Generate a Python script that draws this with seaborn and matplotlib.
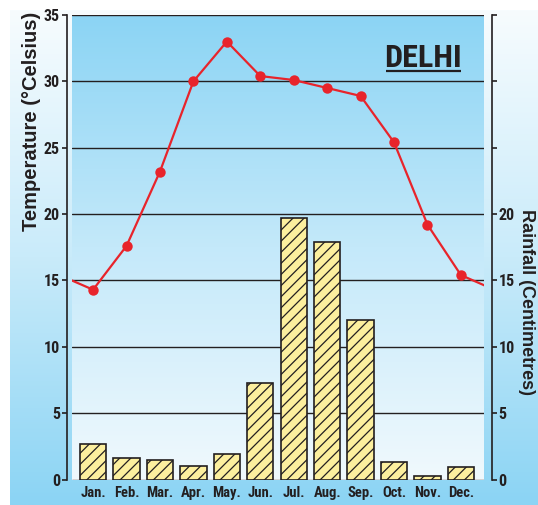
import numpy as np
import pandas as pd
import matplotlib

matplotlib.use("Agg")
import matplotlib.pyplot as plt
from matplotlib.colors import LinearSegmentedColormap
import seaborn as sns

months = ["Jan.", "Feb.", "Mar.", "Apr.", "May.", "Jun.", "Jul.", "Aug.", "Sep.", "Oct.", "Nov.", "Dec."]
temperature_c = [14.3, 17.6, 23.2, 30.0, 33.0, 30.4, 30.1, 29.5, 28.9, 25.4, 19.2, 15.4]
rainfall_cm = [2.65, 1.6, 1.45, 1.05, 1.9, 7.3, 19.7, 17.9, 12.0, 1.35, 0.3, 0.95]
temp_ticks = [0, 5, 10, 15, 20, 25, 30, 35]
rain_tick_labels = ["0", "5", "10", "15", "20", "", "", ""]
city = "DELHI"

INK = "#231f20"
RED = "#e8242b"
NARROW = ["Roboto Condensed", "DejaVu Sans"]

sns.set_theme(style="white")
plt.rcParams["font.family"] = ["Liberation Sans", "DejaVu Sans"]
plt.rcParams["hatch.linewidth"] = 0.9
plt.rcParams["hatch.color"] = INK

fig = plt.figure(figsize=(5.38, 5.05), dpi=100)
W, H = 538, 505

# page background gradient (white at top to sky blue at bottom)
bg = fig.add_axes([10 / W, 0, 1 - 10 / W, 1 - 10 / H], zorder=-5)
page_cmap = LinearSegmentedColormap.from_list("page", ["#f7fcfe", "#c9ebfa", "#8bd4f4"])
bg.imshow(np.linspace(0, 1, 256).reshape(-1, 1), cmap=page_cmap, aspect="auto")
bg.set_axis_off()

ax = fig.add_axes([72 / W, 1 - 479.5 / H, 412 / W, 464.5 / H])
plot_cmap = LinearSegmentedColormap.from_list("plot", ["#8bd4f4", "#c4e9fa", "#f0f9fd"])
ax.imshow(np.linspace(0, 1, 256).reshape(-1, 1), cmap=plot_cmap, aspect="auto",
          extent=(0, 1, 0, 1), transform=ax.transAxes, zorder=0)

positions = np.arange(len(months))
bars = pd.DataFrame({"month": months, "rain": rainfall_cm})
sns.barplot(data=bars, x="month", y="rain", ax=ax, color="#fcef9e", saturation=1,
            edgecolor=INK, linewidth=1.2, width=0.79, hatch="///", zorder=2)

# temperature curve continues into the neighbouring years at both ends
line = pd.DataFrame({
    "x": np.concatenate([[positions[0] - 1], positions, [positions[-1] + 1]]),
    "temp": [temperature_c[-1]] + temperature_c + [temperature_c[0]],
})
sns.lineplot(data=line, x="x", y="temp", ax=ax, sort=False, color=RED, linewidth=1.6,
             marker="o", markersize=7.5, markeredgewidth=0, zorder=4)

ax.set_xlim(-0.63, 11.69)
ax.set_ylim(temp_ticks[0], temp_ticks[-1])
ax.set_xticks(positions, months)
ax.set_yticks(temp_ticks)
ax.set_axisbelow(True)
ax.yaxis.grid(True, color=INK, linewidth=1.0)
ax.xaxis.grid(False)
grid = ax.get_ygridlines()
grid[0].set_visible(False)
grid[-1].set_visible(False)

for side in ["top", "right", "bottom"]:
    ax.spines[side].set_visible(False)
ax.spines["left"].set_position(("outward", 3.6))
ax.spines["left"].set_color(INK)
ax.spines["left"].set_linewidth(1.2)
ax.tick_params(axis="y", left=True, length=3.6, width=1.2, color=INK, pad=1.5,
               labelsize=11.5, labelcolor=INK)
ax.tick_params(axis="x", length=0, pad=5, labelsize=10.5, labelcolor=INK)
for lab in ax.get_yticklabels() + ax.get_xticklabels():
    lab.set_fontfamily(NARROW)
    lab.set_fontweight("bold")

ax.set_xlabel("")
ax.set_ylabel("Temperature (°Celsius)", fontsize=14.5, fontweight="bold", color=INK, va="center")
ax.yaxis.set_label_coords(-0.0995, 0.771)

ax2 = ax.twinx()
ax2.set_ylim(temp_ticks[0], temp_ticks[-1])
ax2.set_yticks(temp_ticks, rain_tick_labels)
for side in ["top", "left", "bottom"]:
    ax2.spines[side].set_visible(False)
ax2.spines["right"].set_position(("outward", 5.5))
ax2.spines["right"].set_color(INK)
ax2.spines["right"].set_linewidth(1.2)
ax2.tick_params(axis="y", right=True, length=3.6, width=1.2, color=INK, pad=1.5,
                labelsize=11.5, labelcolor=INK)
for lab in ax2.get_yticklabels():
    lab.set_fontfamily(NARROW)
    lab.set_fontweight("bold")
ax2.set_ylabel("Rainfall (Centimetres)", fontsize=13, fontweight="bold", color=INK,
               rotation=270, va="center")
ax2.yaxis.set_label_coords(1.104, 0.382)

ax.text(0.853, 0.889, city, transform=ax.transAxes, ha="center", va="baseline",
        fontsize=23, fontweight="bold", family=NARROW, color=INK, zorder=5)
ax.plot([0.762, 0.944], [0.879, 0.879], transform=ax.transAxes, color=INK,
        linewidth=1.6, solid_capstyle="butt", zorder=5)

fig.savefig("out.png", dpi=100)
